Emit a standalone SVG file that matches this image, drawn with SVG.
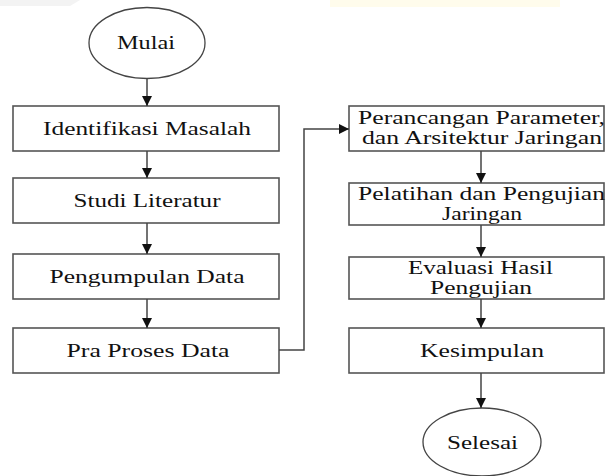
<svg xmlns="http://www.w3.org/2000/svg" width="606" height="476" viewBox="0 0 606 476">
<style>
.box{fill:#fff;stroke:#555;stroke-width:1.6}
.term{fill:#fff;stroke:#444;stroke-width:1.3}
.lbl{font-family:"Liberation Serif","Times New Roman",serif;font-size:18px;fill:#111;text-anchor:middle}
.conn{fill:none;stroke:#444;stroke-width:1.5}
</style>
<defs>
<marker id="ah" markerWidth="10" markerHeight="10" refX="10" refY="5" orient="auto" markerUnits="userSpaceOnUse">
<path d="M0,0 L10,5 L0,10 Z" fill="#111"/>
</marker>
</defs>
<rect width="606" height="476" fill="#fff"/>
<polygon points="0,0 80,0 70,6 0,6" fill="#f3f3f3"/>
<rect x="330" y="0" width="230" height="7" fill="#fffcec"/>

<g id="mulai"><ellipse class="term" cx="147" cy="43" rx="58" ry="35.5"/><text class="lbl" x="146" y="49" textLength="58" lengthAdjust="spacingAndGlyphs">Mulai</text></g>
<g id="identifikasi"><rect class="box" x="13" y="106" width="266" height="45"/><text class="lbl" x="147" y="135" textLength="208" lengthAdjust="spacingAndGlyphs">Identifikasi Masalah</text></g>
<g id="studi"><rect class="box" x="13" y="178" width="266" height="45"/><text class="lbl" x="147" y="207" textLength="147" lengthAdjust="spacingAndGlyphs">Studi Literatur</text></g>
<g id="pengumpulan"><rect class="box" x="13" y="254" width="266" height="45"/><text class="lbl" x="147" y="283" textLength="195" lengthAdjust="spacingAndGlyphs">Pengumpulan Data</text></g>
<g id="praproses"><rect class="box" x="13" y="328" width="266" height="45"/><text class="lbl" x="148" y="357" textLength="163" lengthAdjust="spacingAndGlyphs">Pra Proses Data</text></g>

<g id="perancangan"><rect class="box" x="349" y="106" width="255" height="45"/><text class="lbl" x="481.5" y="124" textLength="247" lengthAdjust="spacingAndGlyphs">Perancangan Parameter,</text><text class="lbl" x="482" y="144" textLength="240" lengthAdjust="spacingAndGlyphs">dan Arsitektur Jaringan</text></g>
<g id="pelatihan"><rect class="box" x="349" y="183" width="255" height="42"/><text class="lbl" x="481.5" y="200" textLength="247" lengthAdjust="spacingAndGlyphs">Pelatihan dan Pengujian</text><text class="lbl" x="482" y="220" textLength="80" lengthAdjust="spacingAndGlyphs">Jaringan</text></g>
<g id="evaluasi"><rect class="box" x="349" y="257" width="255" height="42"/><text class="lbl" x="480.5" y="274" textLength="145" lengthAdjust="spacingAndGlyphs">Evaluasi Hasil</text><text class="lbl" x="481" y="294" textLength="102" lengthAdjust="spacingAndGlyphs">Pengujian</text></g>
<g id="kesimpulan"><rect class="box" x="349" y="328" width="255" height="45"/><text class="lbl" x="482" y="357" textLength="124" lengthAdjust="spacingAndGlyphs">Kesimpulan</text></g>
<g id="selesai"><ellipse class="term" cx="482" cy="442" rx="59" ry="34"/><text class="lbl" x="482.5" y="449" textLength="71" lengthAdjust="spacingAndGlyphs">Selesai</text></g>

<g id="connectors">
<line class="conn" x1="147" y1="78.5" x2="147" y2="106" marker-end="url(#ah)"/>
<line class="conn" x1="147" y1="151" x2="147" y2="178" marker-end="url(#ah)"/>
<line class="conn" x1="147" y1="223" x2="147" y2="254" marker-end="url(#ah)"/>
<line class="conn" x1="147" y1="299" x2="147" y2="328" marker-end="url(#ah)"/>
<polyline class="conn" points="279,350 304,350 304,129 349,129" marker-end="url(#ah)"/>
<line class="conn" x1="481" y1="151" x2="481" y2="183" marker-end="url(#ah)"/>
<line class="conn" x1="481" y1="225" x2="481" y2="257" marker-end="url(#ah)"/>
<line class="conn" x1="481" y1="299" x2="481" y2="328" marker-end="url(#ah)"/>
<line class="conn" x1="481" y1="373" x2="481" y2="408" marker-end="url(#ah)"/>
</g>
</svg>
